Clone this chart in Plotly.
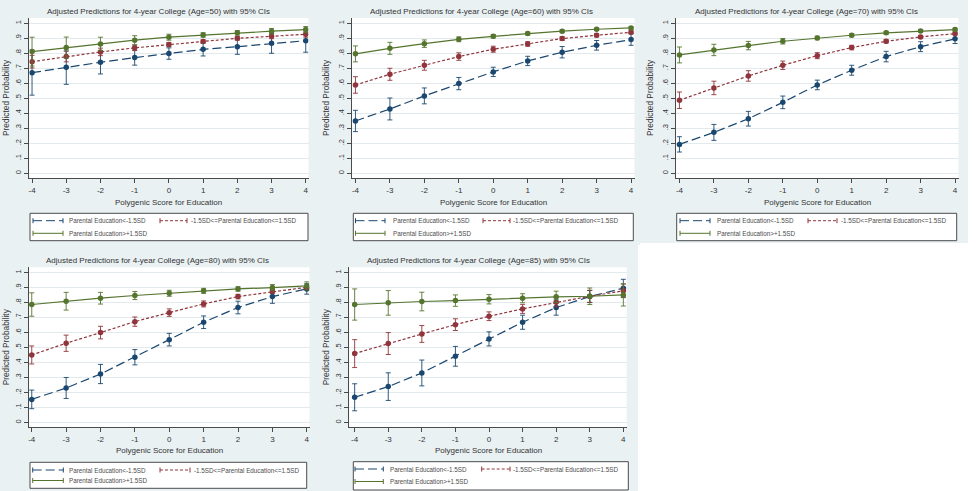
import plotly.graph_objects as go

# ---------------- data ----------------
pgs_scores = [-4, -3, -2, -1, 0, 1, 2, 3, 4]
x_tick_labels = ["-4", "-3", "-2", "-1", "0", "1", "2", "3", "4"]
y_tick_values = [0, 0.1, 0.2, 0.3, 0.4, 0.5, 0.6, 0.7, 0.8, 0.9, 1]
y_tick_labels = ["0", ".1", ".2", ".3", ".4", ".5", ".6", ".7", ".8", ".9", "1"]

ages = [50, 60, 70, 80, 85]
series_names = ["Parental Education<-1.5SD",
                "-1.5SD<=Parental Education<=1.5SD",
                "Parental Education>+1.5SD"]

# predicted probabilities (low / mid / high parental education) and 95% CI half-widths
low_50 = [0.671, 0.707, 0.740, 0.771, 0.798, 0.826, 0.844, 0.866, 0.884]
low_50_ci = [0.150, 0.114, 0.078, 0.050, 0.038, 0.044, 0.051, 0.066, 0.077]
mid_50 = [0.744, 0.778, 0.809, 0.836, 0.858, 0.878, 0.900, 0.913, 0.927]
mid_50_ci = [0.042, 0.035, 0.025, 0.018, 0.014, 0.012, 0.013, 0.016, 0.020]
high_50 = [0.811, 0.838, 0.862, 0.887, 0.907, 0.922, 0.936, 0.947, 0.958]
high_50_ci = [0.096, 0.070, 0.045, 0.030, 0.020, 0.015, 0.015, 0.018, 0.020]

low_60 = [0.349, 0.429, 0.516, 0.598, 0.676, 0.749, 0.807, 0.853, 0.891]
low_60_ci = [0.071, 0.073, 0.053, 0.041, 0.031, 0.031, 0.038, 0.032, 0.038]
mid_60 = [0.589, 0.660, 0.720, 0.778, 0.827, 0.862, 0.898, 0.920, 0.940]
mid_60_ci = [0.055, 0.040, 0.033, 0.025, 0.020, 0.015, 0.013, 0.011, 0.010]
high_60 = [0.796, 0.833, 0.864, 0.893, 0.913, 0.931, 0.947, 0.960, 0.969]
high_60_ci = [0.053, 0.040, 0.025, 0.016, 0.012, 0.010, 0.009, 0.008, 0.008]

low_70 = [0.193, 0.273, 0.364, 0.473, 0.589, 0.687, 0.778, 0.844, 0.896]
low_70_ci = [0.051, 0.053, 0.049, 0.042, 0.032, 0.033, 0.035, 0.033, 0.031]
mid_70 = [0.487, 0.569, 0.649, 0.720, 0.784, 0.838, 0.880, 0.909, 0.931]
mid_70_ci = [0.055, 0.045, 0.035, 0.028, 0.020, 0.015, 0.012, 0.010, 0.010]
high_70 = [0.789, 0.822, 0.851, 0.880, 0.902, 0.920, 0.936, 0.949, 0.958]
high_70_ci = [0.053, 0.038, 0.028, 0.018, 0.012, 0.010, 0.010, 0.009, 0.009]

low_80 = [0.155, 0.231, 0.324, 0.436, 0.553, 0.669, 0.767, 0.840, 0.891]
low_80_ci = [0.062, 0.070, 0.064, 0.051, 0.042, 0.042, 0.042, 0.045, 0.035]
mid_80 = [0.451, 0.529, 0.600, 0.673, 0.733, 0.791, 0.840, 0.873, 0.902]
mid_80_ci = [0.060, 0.054, 0.042, 0.031, 0.025, 0.020, 0.015, 0.012, 0.012]
high_80 = [0.787, 0.809, 0.829, 0.847, 0.862, 0.878, 0.891, 0.900, 0.911]
high_80_ci = [0.078, 0.059, 0.039, 0.027, 0.020, 0.017, 0.015, 0.020, 0.027]

low_85 = [0.169, 0.240, 0.331, 0.442, 0.558, 0.669, 0.767, 0.840, 0.896]
low_85_ci = [0.090, 0.092, 0.086, 0.066, 0.047, 0.047, 0.051, 0.040, 0.059]
mid_85 = [0.460, 0.527, 0.591, 0.653, 0.709, 0.758, 0.802, 0.842, 0.878]
mid_85_ci = [0.093, 0.073, 0.056, 0.039, 0.029, 0.030, 0.030, 0.040, 0.045]
high_85 = [0.787, 0.798, 0.807, 0.813, 0.822, 0.829, 0.838, 0.842, 0.851]
high_85_ci = [0.104, 0.082, 0.062, 0.038, 0.031, 0.030, 0.038, 0.055, 0.074]

panel_series = [
    [(low_50, low_50_ci), (mid_50, mid_50_ci), (high_50, high_50_ci)],
    [(low_60, low_60_ci), (mid_60, mid_60_ci), (high_60, high_60_ci)],
    [(low_70, low_70_ci), (mid_70, mid_70_ci), (high_70, high_70_ci)],
    [(low_80, low_80_ci), (mid_80, mid_80_ci), (high_80, high_80_ci)],
    [(low_85, low_85_ci), (mid_85, mid_85_ci), (high_85, high_85_ci)],
]

# ---------------- styles / layout ----------------
W, H = 978, 491
FONT = "Liberation Sans, Arial, Helvetica, sans-serif"
PANEL_BG = "#eaf1f3"
GRID = "#e3eaed"
AXIS = "#4a4a4a"
TXT = "#333333"
LEG_TXT = "#4d4d4d"
colors = ["#1a476f", "#90353b", "#55752f"]
dashes = ["9px,4px", "3px,2px", "solid"]


def fx(px):
    return px / W


def fy(py):
    return 1 - py / H


panels = [
    dict(bg=(0, 0, 320, 245), plot=(29.3, 18, 308.5, 178), xr=[-4.08, 4.08],
         tx=158, ty=12, xt_y=202, yt_x=6,
         box=(30, 213.3, 308, 240.7), rows=(220.7, 233.3),
         s1=(33, 63), t1=67, s2=(160, 187), t2=188.5),
    dict(bg=(320, 0, 640, 245), plot=(352, 18, 634.5, 178), xr=[-4.1, 4.1],
         tx=481, ty=12, xt_y=202, yt_x=326,
         box=(353.3, 213.3, 633.3, 240.7), rows=(220.7, 233.3),
         s1=(355.5, 385), t1=390.5, s2=(483, 510), t2=511),
    dict(bg=(640, 0, 968, 243), plot=(676, 18, 958.5, 178), xr=[-4.1, 4.1],
         tx=806, ty=12, xt_y=202, yt_x=650,
         box=(676.7, 213.3, 956.7, 240.7), rows=(220.7, 233.3),
         s1=(680, 710), t1=715, s2=(808, 837), t2=839),
    dict(bg=(0, 245, 320, 491), plot=(29, 267.3, 309.5, 427.3), xr=[-4.08, 4.08],
         tx=157.5, ty=260, xt_y=450, yt_x=6,
         box=(30, 462.3, 306.7, 488.3), rows=(470, 480.5),
         s1=(32.7, 63.3), t1=67.3, s2=(160, 190), t2=192),
    dict(bg=(320, 245, 638, 491), plot=(349.3, 267.3, 626.7, 427.3), xr=[-4.16, 4.1],
         tx=478, ty=260, xt_y=450, yt_x=326,
         box=(353.3, 461.7, 628.3, 490), rows=(469, 481.5),
         s1=(355, 383.3), t1=388, s2=(481.7, 510), t2=511),
]

fig = go.Figure()
shapes = []
annotations = []
layout_axes = {}

# panel backgrounds first, then white plot regions
for p in panels:
    x0, y0, x1, y1 = p["bg"]
    shapes.append(dict(type="rect", xref="paper", yref="paper",
                       x0=fx(x0), x1=fx(x1), y0=fy(y1), y1=fy(y0),
                       fillcolor=PANEL_BG, line=dict(width=0), layer="below"))
for p in panels:
    x0, y0, x1, y1 = p["plot"]
    shapes.append(dict(type="rect", xref="paper", yref="paper",
                       x0=fx(x0), x1=fx(x1), y0=fy(y1), y1=fy(y0),
                       fillcolor="white", line=dict(width=0), layer="below"))

for i, (p, age, series) in enumerate(zip(panels, ages, panel_series)):
    n = i + 1
    xa = "x" if n == 1 else f"x{n}"
    ya = "y" if n == 1 else f"y{n}"
    xkey = "xaxis" if n == 1 else f"xaxis{n}"
    ykey = "yaxis" if n == 1 else f"yaxis{n}"
    x0, y0, x1, y1 = p["plot"]
    layout_axes[xkey] = dict(
        domain=[fx(x0), fx(x1)], anchor=ya, range=p["xr"],
        tickmode="array", tickvals=pgs_scores, ticktext=x_tick_labels,
        showgrid=False, zeroline=False, showline=True, linecolor=AXIS, linewidth=1,
        ticks="outside", ticklen=4, tickcolor=AXIS, tickwidth=1,
        tickfont=dict(family=FONT, size=8, color=TXT), fixedrange=True)
    layout_axes[ykey] = dict(
        domain=[fy(y1), fy(y0)], anchor=xa, range=[-0.031, 1.035],
        tickmode="array", tickvals=y_tick_values, ticktext=y_tick_labels,
        tickangle=-90, showgrid=True, gridcolor=GRID, gridwidth=1,
        zeroline=False, showline=True, linecolor=AXIS, linewidth=1,
        ticks="outside", ticklen=4, tickcolor=AXIS, tickwidth=1,
        tickfont=dict(family=FONT, size=7.5, color=TXT), fixedrange=True)

    for k, (vals, ci) in enumerate(series):
        fig.add_trace(go.Scatter(
            x=pgs_scores, y=vals, xaxis=xa, yaxis=ya,
            mode="lines+markers", name=series_names[k], showlegend=False,
            line=dict(color=colors[k], width=1.2, dash=dashes[k]),
            marker=dict(color=colors[k], size=5.5, symbol="circle"),
            error_y=dict(type="data", array=ci, symmetric=True,
                         color=colors[k], thickness=0.9, width=2.5),
            hoverinfo="skip"))

    # title
    annotations.append(dict(
        text=f"Adjusted Predictions for 4-year College (Age={age}) with 95% CIs",
        xref="paper", yref="paper", x=fx(p["tx"]), y=fy(p["ty"]),
        xanchor="center", yanchor="middle", showarrow=False,
        font=dict(family=FONT, size=8, color=TXT)))
    # axis titles
    annotations.append(dict(
        text="Polygenic Score for Education", xref="paper", yref="paper",
        x=fx((x0 + x1) / 2), y=fy(p["xt_y"]), xanchor="center", yanchor="middle",
        showarrow=False, font=dict(family=FONT, size=8, color=TXT)))
    annotations.append(dict(
        text="Predicted Probability", xref="paper", yref="paper",
        x=fx(p["yt_x"]), y=fy((y0 + y1) / 2), xanchor="center", yanchor="middle",
        textangle=-90, showarrow=False, font=dict(family=FONT, size=8.3, color=TXT)))

    # legend box
    bx0, by0, bx1, by1 = p["box"]
    shapes.append(dict(type="rect", xref="paper", yref="paper",
                       x0=fx(bx0), x1=fx(bx1), y0=fy(by1), y1=fy(by0),
                       fillcolor="white", line=dict(color="#4a4a4a", width=1),
                       layer="below"))
    entries = [(p["s1"], p["t1"], p["rows"][0]),
               (p["s2"], p["t2"], p["rows"][0]),
               (p["s1"], p["t1"], p["rows"][1])]
    for k, ((sx0, sx1), tx, ry) in enumerate(entries):
        shapes.append(dict(type="line", xref="paper", yref="paper",
                           x0=fx(sx0), x1=fx(sx1), y0=fy(ry), y1=fy(ry),
                           line=dict(color=colors[k], width=1, dash=dashes[k]),
                           layer="below"))
        for cx in (sx0, sx1):
            shapes.append(dict(type="line", xref="paper", yref="paper",
                               x0=fx(cx), x1=fx(cx), y0=fy(ry - 2.5), y1=fy(ry + 2.5),
                               line=dict(color=colors[k], width=1), layer="below"))
        annotations.append(dict(
            text=series_names[k], xref="paper", yref="paper",
            x=fx(tx), y=fy(ry), xanchor="left", yanchor="middle", showarrow=False,
            font=dict(family=FONT, size=6.3, color=LEG_TXT)))

fig.update_layout(
    width=W, height=H, margin=dict(l=0, r=0, t=0, b=0),
    paper_bgcolor="white", plot_bgcolor="white",
    showlegend=False, shapes=shapes, annotations=annotations,
    font=dict(family=FONT, color=TXT),
    **layout_axes)

fig.write_html("out.html")
